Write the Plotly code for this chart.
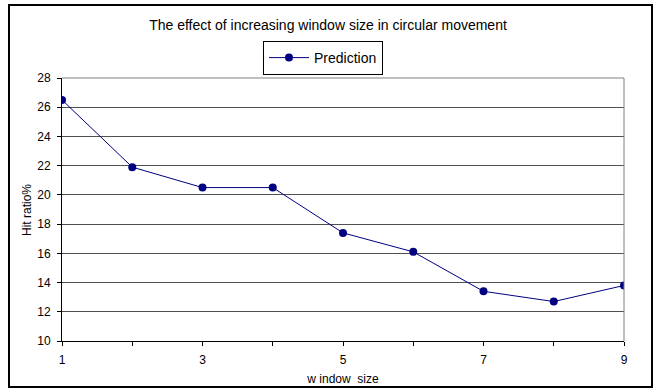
import plotly.graph_objects as go

window_size = [1, 2, 3, 4, 5, 6, 7, 8, 9]
hit_ratio = [26.5, 21.9, 20.5, 20.5, 17.4, 16.1, 13.4, 12.7, 13.8]
x_tick_labels = ["1", "", "3", "", "5", "", "7", "", "9"]
y_ticks = [10, 12, 14, 16, 18, 20, 22, 24, 26, 28]

W, H = 656, 390
L, R, T, B = 62, 624, 78, 341

def px_x(p):
    return (p - L) / (R - L)

def px_y(p):
    return (B - p) / (B - T)

fig = go.Figure()
fig.add_trace(go.Scatter(
    x=window_size, y=hit_ratio, mode="lines+markers", name="Prediction",
    line=dict(color="#000080", width=1),
    marker=dict(color="#000080", size=8, symbol="circle"),
))

font = "Liberation Sans, Arial, sans-serif"
fig.update_layout(
    width=W, height=H,
    margin=dict(l=L, r=W - R, t=T, b=H - B, autoexpand=False),
    paper_bgcolor="white", plot_bgcolor="white",
    font=dict(family=font, size=12, color="black"),
    title=dict(text="The effect of increasing window size in circular movement",
               x=0.5, xanchor="center", y=1 - 25 / H, yanchor="middle",
               font=dict(size=14, family=font, color="black")),
    showlegend=True,
    legend=dict(x=px_x(323), xanchor="center", y=px_y(41), yanchor="top",
                bordercolor="black", borderwidth=1, bgcolor="white",
                font=dict(size=14, family=font), itemwidth=40),
    xaxis=dict(range=[1, 9], tickmode="array", tickvals=window_size, ticktext=x_tick_labels,
               showgrid=False, showline=True, linecolor="black", linewidth=1,
               ticks="outside", ticklen=4, tickcolor="black", zeroline=False,
               ticklabelstandoff=4, automargin=False,
               title=dict(text="w indow  size", font=dict(size=12), standoff=8),
               mirror=False),
    yaxis=dict(range=[10, 28], tickmode="array", tickvals=y_ticks,
               showgrid=True, gridcolor="#505050", gridwidth=1,
               showline=True, linecolor="black", linewidth=1,
               ticks="outside", ticklen=4, tickcolor="black", zeroline=False,
               ticklabelstandoff=4, automargin=False),
)

fig.add_annotation(text="Hit ratio%", xref="paper", yref="paper",
                   x=px_x(27), y=px_y(210), textangle=-90, showarrow=False,
                   xanchor="center", yanchor="middle", font=dict(size=12, family=font))

# plot area top/right border (gray)
fig.add_shape(type="line", xref="paper", yref="paper", x0=0, x1=1, y0=1, y1=1,
              line=dict(color="#808080", width=1))
fig.add_shape(type="line", xref="paper", yref="paper", x0=1, x1=1, y0=0, y1=1,
              line=dict(color="#808080", width=1))
# outer chart border
fig.add_shape(type="rect", xref="paper", yref="paper",
              x0=px_x(9), x1=px_x(652), y0=px_y(387), y1=px_y(5),
              line=dict(color="black", width=2), fillcolor="rgba(0,0,0,0)", layer="below")

fig.write_html("out.html")
